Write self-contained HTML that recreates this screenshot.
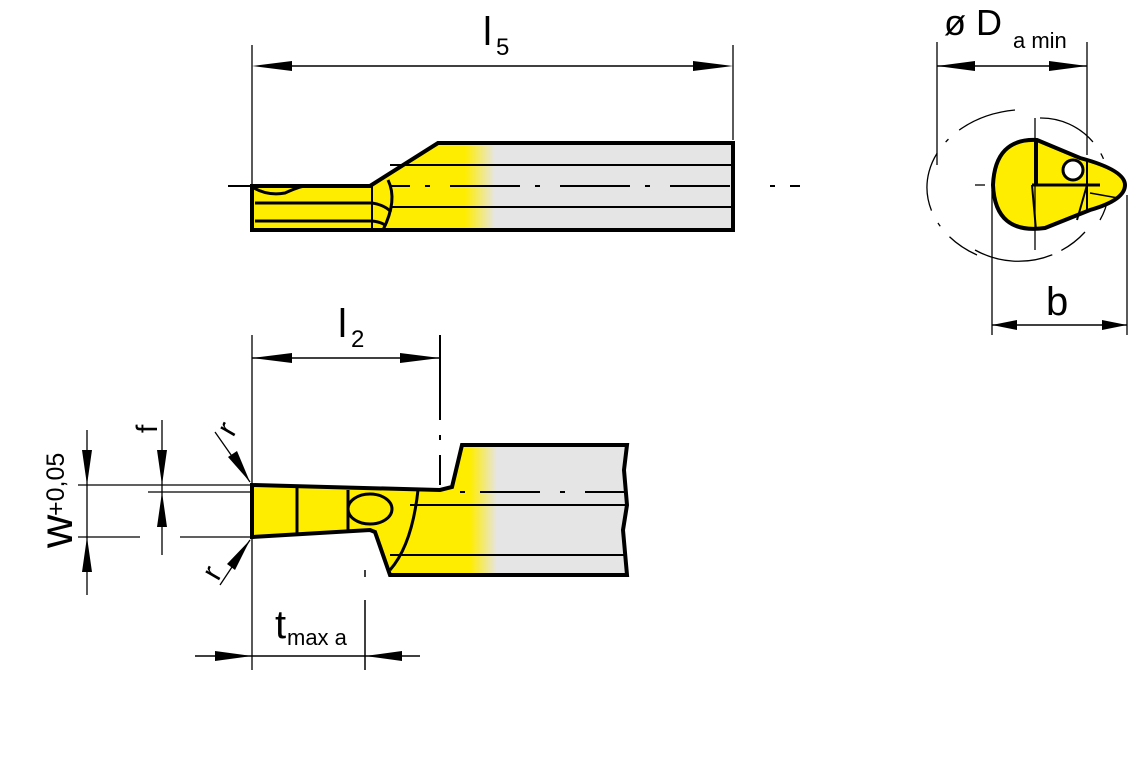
<!DOCTYPE html>
<html><head><meta charset="utf-8"><style>body{margin:0;background:#fff}svg{display:block}text{font-family:"Liberation Sans",sans-serif;fill:#000}</style></head><body>
<svg width="1148" height="780" viewBox="0 0 1148 780" xmlns="http://www.w3.org/2000/svg">
<defs>
<linearGradient id="gt" gradientUnits="userSpaceOnUse" x1="465" y1="0" x2="495" y2="0"><stop offset="0" stop-color="#ffed00"/><stop offset="1" stop-color="#e5e5e5"/></linearGradient>
<linearGradient id="gb" gradientUnits="userSpaceOnUse" x1="470" y1="0" x2="497" y2="0"><stop offset="0" stop-color="#ffed00"/><stop offset="1" stop-color="#e5e5e5"/></linearGradient>
</defs>
<g stroke="#000" fill="none" stroke-width="1.3">
<!-- top view -->
<path d="M252,186 L370,186 L438,143 L733,143 L733,230 L252,230 Z" fill="url(#gt)" stroke-width="4"/>
<path d="M254,188 Q268,196 285,193 Q298,187 305,186" stroke-width="3"/>
<line x1="390" y1="165" x2="733" y2="165" stroke-width="2"/>
<line x1="390" y1="207" x2="733" y2="207" stroke-width="2"/>
<path d="M255,203 L372,203 Q385,205 391,212" stroke-width="3"/>
<path d="M255,221 L372,221 Q382,222 386,226" stroke-width="3"/>
<line x1="372" y1="185" x2="372" y2="230" stroke-width="2"/>
<path d="M388,180 Q398,200 383,230" stroke-width="3"/>
<path d="M228,186 L250,186 M390,186 L410,186 M425,186 L430,186 M450,186 L520,186 M535,186 L540,186 M560,186 L630,186 M645,186 L650,186 M670,186 L730,186 M770,186 L775,186 M790,186 L800,186" stroke-width="2"/>
<line x1="252" y1="45" x2="252" y2="186"/>
<line x1="733" y1="45" x2="733" y2="140"/>
<line x1="265" y1="66" x2="720" y2="66" stroke-width="1.5"/>
<path d="M252,66 L292,61 L292,71Z M733,66 L693,61 L693,71Z" fill="#000" stroke="none"/>
<!-- right view -->
<path d="M1040,118 A68,68 0 0 1 1100,220" stroke-dasharray="60 14 6 14" />
<path d="M1015,110 A100,78 0 0 0 977,255" stroke-dasharray="60 14 4 14"/>
<path d="M975,250 A90,90 0 0 0 1085,232" stroke-dasharray="80 10"/>
<path d="M1037,140 L1080,158 Q1125,170 1125,185 Q1125,200 1090,210 L1045,228 Q995,235 993,185 Q995,138 1037,140 Z" fill="#ffed00" stroke-width="4"/>
<line x1="1036" y1="140" x2="1036" y2="185" stroke-width="4"/>
<line x1="1032" y1="185" x2="1100" y2="185" stroke-width="3"/>
<line x1="1032" y1="185" x2="1036" y2="230" stroke-width="2"/>
<line x1="1087" y1="185" x2="1077" y2="220" stroke-width="2"/>
<line x1="1087" y1="160" x2="1087" y2="210" stroke-width="2"/>
<line x1="1090" y1="193" x2="1118" y2="198" stroke-width="1.5"/>
<circle cx="1073" cy="170" r="10" fill="#fff" stroke-width="3"/>
<line x1="1035" y1="118" x2="1035" y2="250"/>
<line x1="975" y1="185" x2="985" y2="185"/>
<line x1="937" y1="42" x2="937" y2="165"/>
<line x1="1087" y1="42" x2="1087" y2="155"/>
<line x1="937" y1="66" x2="1087" y2="66" stroke-width="1.5"/>
<path d="M937,66 L975,61 L975,71Z M1087,66 L1049,61 L1049,71Z" fill="#000" stroke="none"/>
<line x1="992" y1="190" x2="992" y2="335"/>
<line x1="1127" y1="195" x2="1127" y2="335"/>
<line x1="992" y1="325" x2="1127" y2="325" stroke-width="1.5"/>
<path d="M992,325 L1017,320 L1017,330Z M1127,325 L1102,320 L1102,330Z" fill="#000" stroke="none"/>
<!-- bottom view -->
<path d="M252,485 L440,490 L452,487 L462,445 L627,445 L624,470 L627,505 L623,530 L627,575 L390,575 L375,532 L370,530 L252,537 Z" fill="url(#gb)" stroke-width="4"/>
<line x1="410" y1="505" x2="627" y2="505" stroke-width="2"/>
<line x1="390" y1="555" x2="627" y2="555" stroke-width="2"/>
<line x1="297" y1="487" x2="297" y2="533" stroke-width="3"/>
<line x1="348" y1="490" x2="348" y2="530" stroke-width="3"/>
<ellipse cx="370" cy="509" rx="22" ry="15" stroke-width="3"/>
<path d="M418,490 Q412,545 390,570" stroke-width="3"/>
<path d="M460,492 L465,492 M480,492 L540,492 M560,492 L565,492 M585,492 L627,492" stroke-width="2"/>
<line x1="252" y1="335" x2="252" y2="670"/>
<path d="M440,335 L440,420 M440,435 L440,440 M440,455 L440,485" stroke-width="2"/>
<line x1="252" y1="358" x2="440" y2="358" stroke-width="1.5"/>
<path d="M252,358 L292,353 L292,363Z M440,358 L400,353 L400,363Z" fill="#000" stroke="none"/>
<path d="M365,570 L365,577 M365,600 L365,670" stroke-width="1.5"/>
<line x1="195" y1="656" x2="420" y2="656" stroke-width="1.5"/>
<path d="M252,656 L215,651 L215,661Z M365,656 L402,651 L402,661Z" fill="#000" stroke="none"/>
<line x1="78" y1="485" x2="252" y2="485"/>
<line x1="148" y1="492" x2="252" y2="492"/>
<line x1="78" y1="537" x2="140" y2="537"/>
<line x1="180" y1="537" x2="252" y2="537"/>
<line x1="87" y1="430" x2="87" y2="595"/>
<path d="M87,485 L82,450 L92,450Z M87,537 L82,572 L92,572Z" fill="#000" stroke="none"/>
<line x1="162" y1="420" x2="162" y2="555"/>
<path d="M162,485 L157,450 L167,450Z M162,492 L157,527 L167,527Z" fill="#000" stroke="none"/>
<line x1="215" y1="432" x2="250" y2="482"/>
<path d="M250,482 L228,457 L237,451Z" fill="#000" stroke="none"/>
<line x1="220" y1="585" x2="250" y2="540"/>
<path d="M250,540 L235,570 L227,564Z" fill="#000" stroke="none"/>
</g>
<text x="483" y="45" font-size="40">l</text><text x="496" y="55" font-size="24">5</text>
<text x="944" y="35" font-size="36">ø D</text><text x="1013" y="48" font-size="22">a min</text>
<text x="1046" y="315" font-size="40">b</text>
<text x="338" y="337" font-size="40">l</text><text x="351" y="347" font-size="24">2</text>
<text x="275" y="638" font-size="40">t</text><text x="287" y="645" font-size="22">max a</text>
<text x="233" y="438" font-size="30" transform="rotate(-60 233 438)">r</text>
<text x="218" y="582" font-size="30" transform="rotate(-60 218 582)">r</text>
<text x="157" y="433" font-size="30" transform="rotate(-90 157 433)">f</text>
<text x="72" y="548" font-size="46" transform="rotate(-90 72 548)">w</text>
<text x="64" y="516" font-size="25" transform="rotate(-90 64 516)">+0,05</text>
</svg>
</body></html>
